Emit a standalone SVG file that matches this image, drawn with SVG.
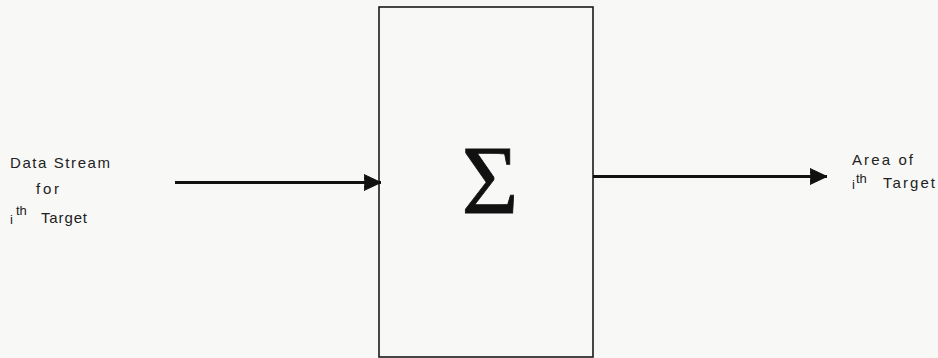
<svg xmlns="http://www.w3.org/2000/svg" width="938" height="358" viewBox="0 0 938 358">
<style>
.lbl{font-family:"Liberation Sans",Arial,sans-serif;font-size:15px;fill:#222}
.sup{font-family:"Liberation Sans",Arial,sans-serif;font-size:13px;fill:#222}
.box{fill:none;stroke:#1a1a1a;stroke-width:1.6}
.conn{stroke:#111;stroke-width:3;fill:none}
</style>
<defs>
<marker id="ah" markerUnits="userSpaceOnUse" markerWidth="20" markerHeight="20" refX="17" refY="9" orient="auto">
<path d="M0,1 Q2,9 0,17 L17,9 Z" fill="#111" stroke="#111" stroke-width="1" stroke-linejoin="round"/>
</marker>
</defs>
<rect width="938" height="358" fill="#f8f8f6"/>
<g id="summer">
<rect class="box" x="379" y="7" width="214" height="350"/>
<text x="490" y="213" text-anchor="middle" font-family="'Liberation Serif',serif" font-size="98" fill="#111" stroke="#111" stroke-width="0.8">Σ</text>
</g>
<g id="input-label">
<text class="lbl" x="10" y="168" textLength="100" lengthAdjust="spacing">Data Stream</text>
<text class="lbl" x="36" y="194" textLength="23" lengthAdjust="spacing">for</text>
<text class="sup" x="10" y="224" font-size="9">i</text>
<text class="sup" x="16" y="215">th</text>
<text class="lbl" x="41" y="223" textLength="46" lengthAdjust="spacing">Target</text>
</g>
<g id="output-label">
<text class="lbl" x="852" y="165" textLength="61" lengthAdjust="spacing">Area of</text>
<text class="sup" x="852" y="189" font-size="9">i</text>
<text class="sup" x="856" y="183">th</text>
<text class="lbl" x="883" y="188" textLength="52" lengthAdjust="spacing">Target</text>
</g>
<g id="connectors">
<line class="conn" x1="175" y1="182.5" x2="381" y2="182.5" marker-end="url(#ah)"/>
<line class="conn" x1="593" y1="176.5" x2="827" y2="176.5" marker-end="url(#ah)"/>
</g>
</svg>
